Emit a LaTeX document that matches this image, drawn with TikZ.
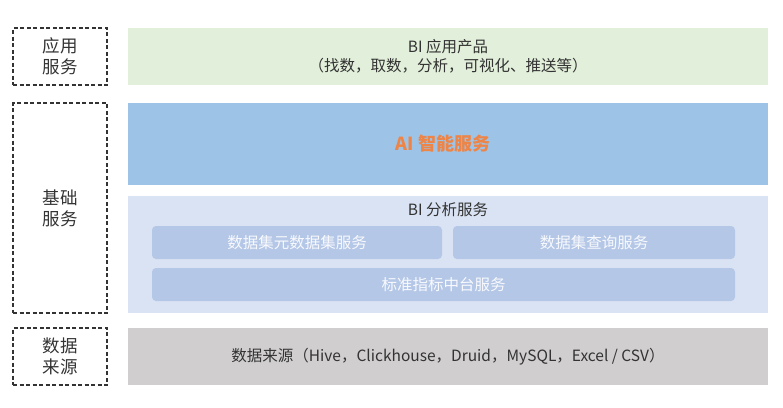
\documentclass[tikz,border=0pt]{standalone}
\usepackage{fontspec}
\setmainfont{Noto Sans CJK SC}
\definecolor{appgreen}{HTML}{E2EFDA}
\definecolor{aiblue}{HTML}{9DC3E6}
\definecolor{bilav}{HTML}{DAE3F3}
\definecolor{subblue}{HTML}{B4C7E7}
\definecolor{srcgray}{HTML}{D0CECE}
\definecolor{aiorange}{HTML}{EE8547}
\definecolor{txtgray}{HTML}{333333}

\begin{document}
\begin{tikzpicture}[x=1pt, y=-1pt,
    layer/.style={minimum width=640pt, inner sep=0pt, outer sep=0pt, text=txtgray,
      font=\fontsize{15.5}{19}\selectfont, align=center},
    tag/.style={draw=txtgray, dashed, dash pattern=on 4pt off 2.5pt, line width=1.1pt,
      minimum width=94pt, inner sep=0pt, text=txtgray, align=center,
      font=\fontsize{17.5}{21}\selectfont},
    subbox/.style={fill=subblue, rounded corners=4pt, minimum height=33pt, inner sep=0pt,
      text=white!90!subblue, font=\fontsize{15.5}{19}\selectfont}]
  \useasboundingbox (0, 0) rectangle (783, 407);
  % left column: dashed tags
  \node[tag, minimum height=57pt] (tagapp) at (60, 56.5) {应用\\服务};
  \node[tag, minimum height=210pt] (tagbase) at (60, 208) {基础\\服务};
  \node[tag, minimum height=57pt] (tagsrc) at (60, 356.5) {数据\\来源};
  % right column: layers
  \node[layer, fill=appgreen, minimum height=57pt] (app) at (448, 56.5)
    {BI 应用产品\\（找数，取数，分析，可视化、推送等）};
  \node[layer, fill=aiblue, minimum height=82pt] (ai) at (448, 144) {};
  \node[text=aiorange, font=\fontsize{18}{22}\selectfont\bfseries] (aititle) at (443, 144) {AI 智能服务};
  \node[layer, fill=bilav, minimum height=117pt] (bi) at (448, 254.5) {};
  \node[text=txtgray, font=\fontsize{15.5}{19}\selectfont] (bititle) at (448, 210) {BI 分析服务};
  % sub services inside BI
  \node[subbox, minimum width=290pt] (meta) at (297, 242.5) {数据集元数据集服务};
  \node[subbox, minimum width=282pt] (query) at (594, 242.5) {数据集查询服务};
  \node[subbox, minimum width=583pt] (metric) at (443.5, 284.5) {标准指标中台服务};
  % data sources
  \node[layer, fill=srcgray, minimum height=57pt] (src) at (448, 356.5)
    {数据来源（Hive，Clickhouse，Druid，MySQL，Excel / CSV）};
\end{tikzpicture}
\end{document}
